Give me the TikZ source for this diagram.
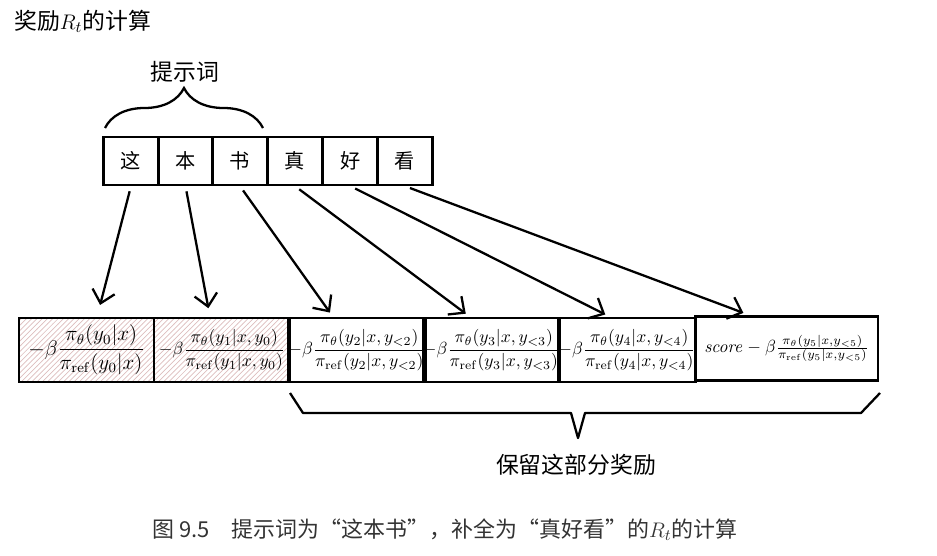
\documentclass[tikz,border=0pt]{standalone}
\usepackage{amsmath}
\usepackage[no-math]{fontspec}
\setmainfont{Noto Sans CJK SC}
\usetikzlibrary{arrows.meta,patterns,decorations.pathreplacing}
\definecolor{Hatch}{HTML}{DDBDBD}
\definecolor{Caption}{HTML}{333333}
\newcommand{\rwdfrac}[1]{-\beta\dfrac{\pi_\theta(#1)}{\pi_{\mathrm{ref}}(#1)}}

\begin{document}
\begin{tikzpicture}[
    tok/.style={draw,line width=1.3pt,minimum width=1.1cm,minimum height=.96cm,inner sep=0pt,font=\fontsize{11.5}{13}\selectfont},
    rwd/.style={draw,line width=1.3pt,minimum height=1.28cm,inner sep=0pt,font=\normalsize},
    hatch/.style={pattern=north east lines,pattern color=Hatch},
    arr/.style={-{Straight Barb[length=7pt,width=13pt]},line width=1.3pt,shorten <=3pt,shorten >=3pt},
    lbl/.style={font=\fontsize{13}{15}\selectfont}
  ]
    \useasboundingbox (0,0) rectangle (18.74,-11.12);
    \node[anchor=west,font=\fontsize{13}{15}\selectfont] (title) at (0.16,-0.42) {奖励$R_t$的计算};
    % prompt and completion tokens
    \node[tok] (t0) at (2.62,-3.22) {这};
    \node[tok] (t1) at (3.71,-3.22) {本};
    \node[tok] (t2) at (4.80,-3.22) {书};
    \node[tok] (t3) at (5.90,-3.22) {真};
    \node[tok] (t4) at (7.01,-3.22) {好};
    \node[tok] (t5) at (8.10,-3.22) {看};
    \draw[line width=1.3pt,decorate,decoration={brace,amplitude=.8cm}] (2.1,-2.56) -- (5.26,-2.56);
    \node[lbl] (prompt) at (3.7,-1.44) {提示词};
    % per-token rewards
    \node[rwd,hatch,minimum width=2.7cm,font=\large] (b0) at (1.73,-7.0) {$-\beta\dfrac{\pi_\theta(y_0|x)}{\pi_{\mathrm{ref}}(y_0|x)}$};
    \node[rwd,hatch,minimum width=2.72cm] (b1) at (4.44,-7.0) {$\rwdfrac{y_1|x,y_0}$};
    \node[rwd,minimum width=2.68cm] (b2) at (7.14,-7.0) {$\rwdfrac{y_2|x,y_{<2}}$};
    \node[rwd,minimum width=2.7cm] (b3) at (9.83,-7.0) {$\rwdfrac{y_3|x,y_{<3}}$};
    \node[rwd,minimum width=2.72cm] (b4) at (12.54,-7.0) {$\rwdfrac{y_4|x,y_{<4}}$};
    \node[rwd,minimum width=3.66cm] (b5) at (15.73,-6.97) {$\mathit{score}-\beta\frac{\pi_\theta(y_5|x,y_{<5})}{\pi_{\mathrm{ref}}(y_5|x,y_{<5})}$};
    \draw[arr,shorten >=7pt] (t0.south) -- ([xshift=.21cm]b0.north);
    \draw[arr,shorten >=5pt] (t1.south) -- ([xshift=-.24cm]b1.north);
    \draw[arr] (t2.south) -- ([xshift=-.48cm]b2.north);
    \draw[arr] (t3.south) -- ([xshift=-.43cm]b3.north);
    \draw[arr] (t4.south) -- ([xshift=-.34cm]b4.north);
    \draw[arr,shorten >=4pt] (t5.south) -- ([xshift=-.73cm]b5.north);
    % kept part
    \draw[line width=1.3pt,line join=round] (5.8,-7.86) -- (6.06,-8.26) -- (11.42,-8.26) -- (11.56,-8.76) -- (11.7,-8.26) -- (17.22,-8.26) -- (17.6,-7.86);
    \node[lbl] (keep) at (11.52,-9.3) {保留这部分奖励};
    \node[text=Caption,font=\fontsize{12.5}{14}\selectfont] (cap) at (8.9,-10.6) {图~9.5\quad 提示词为“这本书”，补全为“真好看”的$R_t$的计算};
  \end{tikzpicture}
\end{document}
